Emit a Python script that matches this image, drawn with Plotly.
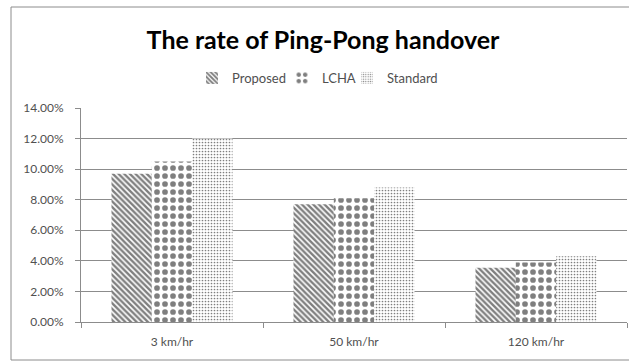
import plotly.graph_objects as go

categories = ["3 km/hr", "50 km/hr", "120 km/hr"]
proposed = [0.097, 0.077, 0.0355]
lcha = [0.105, 0.081, 0.039]
standard = [0.120, 0.088, 0.043]
y_ticks = [0, 0.02, 0.04, 0.06, 0.08, 0.10, 0.12, 0.14]

W, H = 630, 361
L, R, T, B = 81, 3, 108, 39
pw, ph = W - L - R, H - T - B

def px_x(p):
    return (p - L) / pw

def px_y(p):
    return (H - B - p) / ph

font_family = "Lato, 'Open Sans', sans-serif"
grid = "#8c8c8c"
txt = "#505050"
border = dict(color="#8c8c8c", width=1)

fig = go.Figure()
fig.add_trace(go.Bar(
    name="Proposed", x=categories, y=proposed, legend="legend",
    marker=dict(color="white", line=dict(width=0),
                pattern=dict(shape="\\", size=4, solidity=0.6, fgcolor="black", bgcolor="white")),
))
fig.add_trace(go.Bar(
    name="LCHA", x=categories, y=lcha, legend="legend2",
    marker=dict(color="white", line=dict(width=0),
                pattern=dict(shape=".", size=8, solidity=0.4, fgcolor="black", bgcolor="white")),
))
fig.add_trace(go.Bar(
    name="Standard", x=categories, y=standard, legend="legend3",
    marker=dict(color="white", line=dict(width=0),
                pattern=dict(shape=".", size=3, solidity=0.25, fgcolor="black", bgcolor="white")),
))

def leg(text_start):
    return dict(orientation="h", x=px_x(text_start - 40), xanchor="left",
                y=px_y(78), yanchor="middle",
                font=dict(family=font_family, size=13, color=txt),
                itemwidth=30, bgcolor="rgba(0,0,0,0)")

fig.update_layout(
    width=W, height=H,
    margin=dict(l=L, r=R, t=T, b=B),
    paper_bgcolor="white", plot_bgcolor="white",
    showlegend=True,
    barmode="group", bargap=0.335, bargroupgap=0,
    font=dict(family=font_family, size=12, color=txt),
    title=dict(text="<b>The rate of Ping-Pong handover</b>",
               font=dict(family=font_family, size=25, color="black"),
               x=323 / W, xanchor="center", y=1 - 40 / H, yanchor="middle"),
    legend=leg(232),
    legend2=leg(322),
    legend3=leg(387),
    xaxis=dict(showline=True, linecolor=grid, linewidth=1,
               ticks="outside", tickson="boundaries", ticklen=5, tickcolor=grid,
               ticklabelstandoff=9,
               showgrid=False, tickfont=dict(size=12, color=txt)),
    yaxis=dict(range=[0, 0.14], tickvals=y_ticks, tickformat=".2%",
               showline=True, linecolor=grid, linewidth=1,
               ticks="outside", ticklen=5, tickcolor=grid,
               ticklabelstandoff=9,
               showgrid=True, gridcolor=grid, gridwidth=1,
               zeroline=False, tickfont=dict(size=12, color=txt)),
    shapes=[
        dict(type="line", xref="paper", yref="paper",
             x0=px_x(11), x1=px_x(11), y0=px_y(360), y1=px_y(7), line=border),
        dict(type="line", xref="paper", yref="paper",
             x0=px_x(11), x1=px_x(629), y0=px_y(7), y1=px_y(7), line=border),
        dict(type="line", xref="paper", yref="paper",
             x0=px_x(11), x1=px_x(629), y0=px_y(360), y1=px_y(360), line=border),
    ],
)

fig.write_html("out.html")
